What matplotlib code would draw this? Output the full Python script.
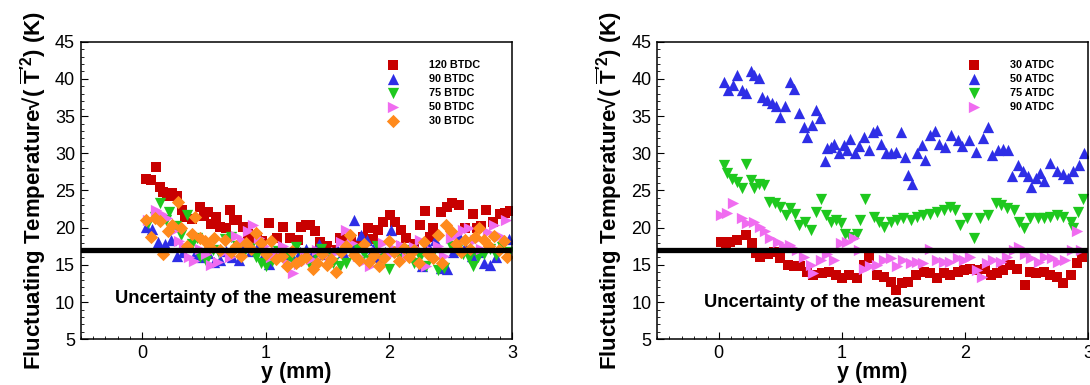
import matplotlib
matplotlib.use('Agg')
from matplotlib import pyplot as plt
from matplotlib.ticker import MultipleLocator

plt.rcParams['font.family'] = ['Liberation Sans', 'DejaVu Sans']
plt.rcParams['mathtext.fontset'] = 'custom'
plt.rcParams['mathtext.rm'] = 'Liberation Sans'
plt.rcParams['mathtext.bf'] = 'Liberation Sans:bold'

# crank angles before top dead centre (left panel) as (y mm, T K)
btdc_120 = [(0.03, 26.6), (0.07, 26.4), (0.11, 28.1), (0.14, 25.5), (0.17, 24.8), (0.20, 24.3),
            (0.24, 24.6), (0.28, 24.3), (0.32, 22.4), (0.35, 21.5), (0.40, 21.2), (0.47, 22.8),
            (0.50, 21.6), (0.53, 22.1), (0.56, 20.5), (0.60, 21.5), (0.63, 20.1), (0.68, 19.9),
            (0.71, 22.4), (0.74, 21.0), (0.77, 21.0), (0.82, 20.1), (0.86, 19.2), (0.90, 18.6),
            (0.93, 18.8), (0.97, 18.2), (1.03, 20.6), (1.09, 18.6), (1.14, 20.1), (1.20, 18.6),
            (1.26, 18.3), (1.29, 20.1), (1.33, 20.3), (1.36, 20.4), (1.40, 19.6), (1.44, 18.1),
            (1.50, 17.5), (1.55, 17.0), (1.60, 18.6), (1.65, 18.3), (1.69, 18.3), (1.74, 17.6),
            (1.79, 18.7), (1.83, 19.9), (1.87, 18.5), (1.91, 19.7), (1.95, 20.8), (2.01, 21.7),
            (2.05, 20.8), (2.10, 19.7), (2.14, 18.6), (2.20, 17.8), (2.25, 20.4), (2.29, 22.3),
            (2.33, 18.8), (2.36, 19.9), (2.42, 22.1), (2.47, 22.8), (2.51, 23.3), (2.57, 23.0),
            (2.62, 20.0), (2.68, 21.9), (2.71, 19.9), (2.75, 20.2), (2.79, 22.4), (2.84, 20.8),
            (2.90, 21.8), (2.94, 22.0), (2.98, 22.2)]
btdc_90 = [(0.03, 20.1), (0.08, 19.8), (0.13, 18.1), (0.18, 17.8), (0.23, 18.3), (0.28, 16.2),
           (0.33, 16.8), (0.38, 17.5), (0.43, 16.4), (0.48, 16.0), (0.53, 16.6), (0.58, 15.4),
           (0.63, 15.6), (0.68, 16.9), (0.73, 16.0), (0.78, 15.7), (0.83, 17.8), (0.88, 16.9),
           (0.93, 17.3), (0.98, 16.2), (1.03, 15.1), (1.08, 16.4), (1.13, 17.0), (1.18, 16.1),
           (1.23, 15.5), (1.28, 16.8), (1.33, 17.2), (1.38, 16.6), (1.43, 17.8), (1.48, 16.4),
           (1.53, 15.9), (1.58, 17.1), (1.63, 16.8), (1.68, 18.0), (1.72, 21.0), (1.77, 19.0),
           (1.82, 18.4), (1.87, 17.2), (1.92, 16.0), (1.97, 16.8), (2.02, 19.7), (2.07, 17.5),
           (2.12, 16.9), (2.17, 16.4), (2.22, 17.2), (2.27, 14.9), (2.32, 17.6), (2.37, 18.3),
           (2.42, 14.6), (2.47, 14.5), (2.52, 16.8), (2.57, 18.9), (2.62, 17.4), (2.67, 16.2),
           (2.72, 16.8), (2.77, 15.2), (2.82, 15.0), (2.87, 16.1), (2.92, 17.5), (2.97, 18.5)]
btdc_75 = [(0.05, 20.6), (0.10, 21.5), (0.14, 23.3), (0.19, 21.0), (0.22, 22.1), (0.27, 20.2),
           (0.31, 19.0), (0.36, 21.7), (0.40, 17.8), (0.44, 18.6), (0.47, 16.1), (0.52, 15.5),
           (0.57, 17.0), (0.62, 16.6), (0.67, 18.5), (0.72, 18.8), (0.77, 17.5), (0.82, 16.4),
           (0.87, 17.3), (0.92, 16.0), (0.96, 15.3), (1.00, 14.8), (1.05, 15.5), (1.10, 16.9),
           (1.15, 16.2), (1.20, 15.8), (1.25, 17.4), (1.30, 16.0), (1.35, 15.2), (1.40, 16.5),
           (1.45, 17.2), (1.50, 15.9), (1.55, 15.3), (1.60, 14.9), (1.65, 15.2), (1.70, 16.6),
           (1.75, 17.2), (1.80, 16.4), (1.85, 15.7), (1.90, 17.5), (1.95, 16.2), (2.00, 14.5),
           (2.05, 16.8), (2.10, 15.8), (2.15, 17.0), (2.20, 15.3), (2.25, 16.0), (2.30, 14.9),
           (2.35, 16.4), (2.40, 14.3), (2.45, 14.6), (2.50, 17.6), (2.55, 17.0), (2.60, 16.4),
           (2.65, 15.9), (2.68, 14.9), (2.72, 16.1), (2.77, 16.5), (2.82, 17.2), (2.87, 16.3),
           (2.92, 17.4), (2.97, 16.8)]
btdc_50 = [(0.05, 21.0), (0.11, 22.4), (0.16, 21.8), (0.20, 21.3), (0.25, 19.6), (0.30, 18.2),
           (0.34, 17.5), (0.38, 16.1), (0.42, 15.5), (0.47, 17.2), (0.52, 16.4), (0.56, 15.0),
           (0.61, 15.4), (0.66, 16.8), (0.71, 16.0), (0.76, 18.9), (0.81, 18.3), (0.86, 19.5),
           (0.90, 20.4), (0.95, 18.6), (0.99, 17.6), (1.04, 16.0), (1.09, 16.7), (1.14, 17.6),
           (1.18, 15.3), (1.22, 13.9), (1.27, 15.1), (1.32, 16.6), (1.37, 15.8), (1.42, 17.0),
           (1.47, 16.5), (1.52, 15.6), (1.57, 16.8), (1.61, 18.1), (1.65, 19.7), (1.70, 17.9),
           (1.75, 16.2), (1.80, 15.5), (1.85, 14.9), (1.90, 16.8), (1.95, 18.0), (2.00, 16.3),
           (2.05, 17.1), (2.10, 17.7), (2.15, 16.0), (2.20, 17.4), (2.25, 18.3), (2.30, 14.8),
           (2.35, 16.9), (2.40, 17.5), (2.45, 16.2), (2.50, 18.6), (2.55, 19.1), (2.60, 19.7),
           (2.65, 20.0), (2.70, 18.3), (2.75, 17.1), (2.80, 19.4), (2.85, 20.3), (2.90, 18.9),
           (2.95, 21.0)]
btdc_30 = [(0.03, 21.0), (0.07, 18.8), (0.10, 21.3), (0.14, 20.9), (0.17, 16.5), (0.21, 19.6),
           (0.24, 20.3), (0.29, 23.5), (0.31, 20.0), (0.36, 17.5), (0.40, 19.2), (0.43, 21.5),
           (0.47, 18.6), (0.51, 18.2), (0.55, 17.4), (0.58, 18.6), (0.63, 17.0), (0.67, 18.3),
           (0.72, 16.7), (0.76, 17.6), (0.80, 16.2), (0.84, 18.0), (0.88, 17.1), (0.92, 19.3),
           (0.96, 18.0), (1.00, 16.5), (1.04, 18.2), (1.08, 15.8), (1.13, 16.2), (1.17, 14.8),
           (1.21, 16.9), (1.25, 15.3), (1.29, 15.6), (1.33, 16.0), (1.38, 14.5), (1.42, 15.2),
           (1.46, 16.5), (1.50, 15.0), (1.53, 15.8), (1.57, 14.1), (1.61, 16.7), (1.65, 17.6),
           (1.68, 19.0), (1.72, 16.3), (1.76, 15.6), (1.80, 17.8), (1.84, 15.4), (1.88, 16.3),
           (1.92, 14.8), (1.96, 15.9), (2.00, 18.2), (2.04, 16.8), (2.08, 15.5), (2.12, 17.3),
           (2.16, 16.0), (2.20, 17.0), (2.24, 15.3), (2.28, 18.1), (2.32, 16.4), (2.36, 15.9),
           (2.40, 19.0), (2.43, 15.2), (2.46, 20.4), (2.50, 19.6), (2.54, 17.8), (2.58, 16.8),
           (2.62, 18.4), (2.66, 17.2), (2.70, 18.7), (2.73, 19.9), (2.77, 18.3), (2.81, 17.6),
           (2.85, 18.9), (2.89, 17.0), (2.93, 18.2), (2.96, 16.1)]

# crank angles after top dead centre (right panel)
atdc_30 = [(0.02, 18.1), (0.06, 17.6), (0.09, 18.1), (0.15, 18.3), (0.22, 19.0), (0.27, 17.9),
           (0.30, 16.6), (0.34, 16.1), (0.40, 16.4), (0.45, 16.8), (0.50, 15.9), (0.56, 15.0),
           (0.61, 14.8), (0.66, 14.8), (0.72, 14.1), (0.77, 13.6), (0.84, 13.9), (0.90, 14.1),
           (0.95, 13.6), (1.00, 13.2), (1.06, 13.6), (1.12, 13.2), (1.18, 15.0), (1.22, 15.9),
           (1.29, 13.6), (1.34, 13.4), (1.40, 12.7), (1.44, 11.6), (1.49, 12.5), (1.54, 12.7),
           (1.60, 13.6), (1.67, 14.1), (1.72, 13.9), (1.77, 13.2), (1.83, 13.9), (1.88, 13.6),
           (1.94, 14.1), (1.99, 14.3), (2.04, 14.5), (2.10, 14.3), (2.16, 14.5), (2.21, 13.6),
           (2.26, 13.9), (2.31, 14.3), (2.37, 15.0), (2.42, 14.5), (2.49, 12.3), (2.53, 14.1),
           (2.58, 13.9), (2.64, 14.1), (2.69, 13.6), (2.75, 13.4), (2.80, 12.5), (2.86, 13.6),
           (2.91, 15.2), (2.95, 16.1)]
atdc_50 = [(0.04, 39.6), (0.08, 38.5), (0.12, 39.2), (0.15, 40.5), (0.19, 38.5), (0.22, 38.1),
           (0.26, 41.0), (0.29, 40.5), (0.33, 40.1), (0.35, 37.6), (0.39, 37.2), (0.43, 36.7),
           (0.47, 36.3), (0.50, 34.9), (0.54, 36.3), (0.58, 39.6), (0.61, 38.7), (0.65, 35.4),
           (0.69, 33.6), (0.72, 32.2), (0.76, 33.8), (0.79, 35.8), (0.82, 34.7), (0.86, 28.9),
           (0.88, 30.7), (0.91, 30.9), (0.94, 31.3), (0.98, 30.0), (1.02, 31.1), (1.04, 30.4),
           (1.07, 31.9), (1.11, 30.0), (1.14, 31.0), (1.18, 32.2), (1.22, 30.4), (1.25, 32.9),
           (1.29, 33.1), (1.32, 31.3), (1.36, 30.0), (1.40, 30.0), (1.44, 30.2), (1.48, 32.9),
           (1.51, 29.5), (1.54, 27.1), (1.57, 25.9), (1.61, 30.0), (1.65, 31.1), (1.68, 29.1),
           (1.72, 32.5), (1.76, 33.0), (1.79, 31.3), (1.84, 30.9), (1.89, 32.5), (1.94, 31.8),
           (1.98, 31.0), (2.03, 31.8), (2.09, 30.2), (2.15, 32.0), (2.19, 33.6), (2.22, 29.8),
           (2.27, 30.4), (2.31, 30.6), (2.35, 30.4), (2.38, 26.9), (2.43, 28.4), (2.47, 27.6),
           (2.51, 26.9), (2.54, 25.5), (2.58, 26.7), (2.61, 27.3), (2.64, 26.3), (2.69, 28.7),
           (2.75, 27.6), (2.80, 27.2), (2.84, 26.7), (2.88, 27.6), (2.93, 28.4), (2.97, 30.0)]
atdc_75 = [(0.04, 28.4), (0.07, 27.3), (0.11, 26.6), (0.15, 26.2), (0.19, 25.3), (0.22, 28.6),
           (0.26, 26.4), (0.29, 25.3), (0.33, 25.9), (0.37, 25.7), (0.41, 23.5), (0.46, 23.3),
           (0.50, 22.8), (0.55, 21.7), (0.58, 22.6), (0.62, 21.9), (0.65, 20.4), (0.70, 20.8),
           (0.75, 19.7), (0.79, 22.1), (0.83, 23.9), (0.87, 21.7), (0.91, 20.8), (0.95, 21.0),
           (0.99, 20.6), (1.03, 19.2), (1.07, 18.8), (1.12, 19.2), (1.15, 21.0), (1.19, 23.9),
           (1.26, 21.5), (1.30, 20.8), (1.34, 20.1), (1.40, 20.8), (1.45, 21.0), (1.50, 21.3),
           (1.56, 21.0), (1.61, 21.5), (1.66, 21.7), (1.72, 21.9), (1.77, 22.1), (1.83, 22.4),
           (1.88, 22.8), (1.92, 22.4), (1.96, 20.4), (2.02, 21.3), (2.07, 18.6), (2.12, 21.3),
           (2.19, 21.7), (2.25, 23.3), (2.29, 23.0), (2.34, 22.6), (2.40, 22.4), (2.44, 20.8),
           (2.48, 19.9), (2.53, 21.3), (2.59, 21.3), (2.64, 21.3), (2.69, 21.5), (2.75, 21.7),
           (2.80, 21.5), (2.86, 20.8), (2.88, 19.9), (2.92, 22.1), (2.96, 23.9)]
atdc_90 = [(0.02, 21.7), (0.07, 22.0), (0.12, 23.3), (0.19, 21.3), (0.23, 20.6), (0.29, 20.8),
           (0.34, 20.1), (0.38, 19.5), (0.42, 18.6), (0.48, 18.1), (0.53, 17.5), (0.58, 17.7),
           (0.64, 17.0), (0.69, 16.1), (0.75, 15.0), (0.77, 13.9), (0.83, 15.6), (0.88, 16.5),
           (0.94, 15.6), (0.99, 17.9), (1.04, 18.1), (1.10, 18.6), (1.14, 17.0), (1.18, 14.5),
           (1.23, 14.8), (1.29, 15.0), (1.34, 15.6), (1.40, 15.9), (1.45, 14.8), (1.50, 15.6),
           (1.56, 15.2), (1.61, 15.4), (1.66, 15.2), (1.72, 17.2), (1.77, 15.6), (1.83, 15.4),
           (1.88, 15.4), (1.94, 15.9), (1.99, 15.6), (2.04, 16.1), (2.10, 14.3), (2.14, 13.4),
           (2.18, 15.2), (2.23, 15.6), (2.29, 15.4), (2.34, 16.1), (2.40, 17.0), (2.44, 17.4),
           (2.49, 16.5), (2.54, 15.9), (2.60, 15.4), (2.65, 16.1), (2.71, 15.9), (2.76, 15.4),
           (2.81, 15.6), (2.87, 17.0), (2.91, 19.5), (2.94, 17.0)]

uncertainty = 17.0
left_series = [('120 BTDC', btdc_120, 's', '#C80000'), ('90 BTDC', btdc_90, '^', '#2E2EE6'),
               ('75 BTDC', btdc_75, 'v', '#1EC81E'), ('50 BTDC', btdc_50, '>', '#F06CF0'),
               ('30 BTDC', btdc_30, 'D', '#FF8A1C')]
right_series = [('30 ATDC', atdc_30, 's', '#C80000'), ('50 ATDC', atdc_50, '^', '#2E2EE6'),
                ('75 ATDC', atdc_75, 'v', '#1EC81E'), ('90 ATDC', atdc_90, '>', '#F06CF0')]

sizes = {'s': 55, '^': 66, 'v': 66, '>': 66, 'D': 46}


def draw_panel(ax, series, leg_x, note_x, note_y):
    for label, pts, marker, color in series:
        xs = [p[0] for p in pts]
        ys = [p[1] for p in pts]
        ax.scatter(xs, ys, s=sizes[marker], marker=marker, c=color, linewidths=0, label=label)
    ax.axhline(uncertainty, xmin=0, xmax=0.992, color='k', lw=3.8, zorder=5)
    ax.set_xlim(-0.5, 3)
    ax.set_ylim(5, 45)
    ax.xaxis.set_major_locator(MultipleLocator(1))
    ax.xaxis.set_minor_locator(MultipleLocator(0.1))
    ax.yaxis.set_major_locator(MultipleLocator(5))
    ax.yaxis.set_minor_locator(MultipleLocator(1))
    ax.tick_params(which='both', direction='in', labelsize=13, pad=4)
    ax.tick_params(which='major', length=5)
    ax.tick_params(which='minor', length=2.5)
    for sp in ax.spines.values():
        sp.set_linewidth(1.1)
    ax.set_xlabel('y (mm)', fontsize=15.5, fontweight='bold', labelpad=0)
    ax.set_ylabel(r"Fluctuating Temperature√( $\overline{\mathbf{T}}^{\mathbf{\prime 2}}$) (K)",
                  fontsize=16, fontweight='bold', labelpad=5)
    ax.text(note_x, note_y, 'Uncertainty of the measurement', fontsize=13.2, fontweight='bold',
            ha='left', va='center')
    ax.legend(loc='upper left', bbox_to_anchor=(leg_x, 0.94), frameon=False,
              prop={'weight': 'bold', 'size': 7.8}, handlelength=2, handletextpad=2.3,
              labelspacing=0.38, borderpad=0, borderaxespad=0)


fig = plt.figure(figsize=(10.9, 3.85), dpi=100)
ax1 = fig.add_axes([0.074, 0.1187, 0.396, 0.773])
ax2 = fig.add_axes([0.6028, 0.1187, 0.3954, 0.773])
draw_panel(ax1, left_series, 0.698, -0.22, 10.5)
draw_panel(ax2, right_series, 0.711, -0.12, 9.9)

plt.savefig('out.png', dpi=100)
